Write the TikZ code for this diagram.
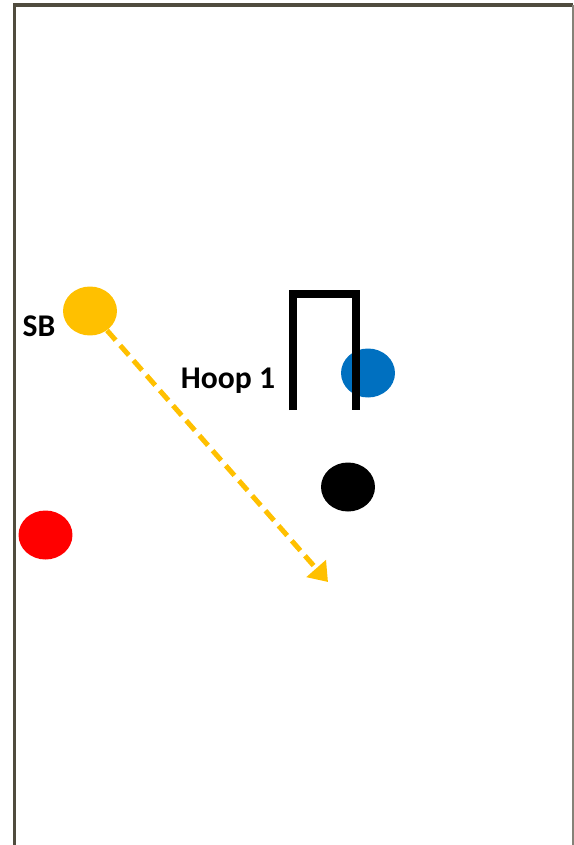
\documentclass[tikz,border=0pt]{standalone}
\usepackage{fontspec}
\setmainfont{Carlito}
\usepackage{tikz}
\usetikzlibrary{shapes.geometric, positioning, arrows.meta}
\definecolor{framecol}{RGB}{80,76,62}
\definecolor{sbyellow}{RGB}{255,192,0}
\definecolor{ballblue}{RGB}{0,112,192}

\begin{document}
\begin{tikzpicture}[x=0.02cm, y=-0.02cm,
        ball/.style={ellipse, minimum width=1.08cm, minimum height=0.98cm, inner sep=0pt},
        label/.style={font=\fontsize{18}{20}\selectfont\bfseries, anchor=base, inner sep=0pt},
        hoop/.style={line width=0.16cm, miter limit=10},
        arrow/.style={sbyellow, line width=0.1cm, dash pattern=on 0.26cm off 0.14cm, -{Triangle[width=0.5cm,length=0.36cm]}}]

        \useasboundingbox (0,0) rectangle (574,845);

        % Marco del campo
        \draw [framecol, line width=0.07cm] (14.5,845) -- (14.5,5) -- (573,5);
        \draw [framecol!70, line width=0.04cm] (573,5) -- (573,845);

        % Bolas
        \node (sb) [ball, fill=sbyellow] at (90,311) {};
        \node (blue) [ball, fill=ballblue] at (368,373) {};
        \node (black) [ball, fill=black] at (348,487) {};
        \node (red) [ball, fill=red] at (45.5,535) {};

        % Aro 1
        \coordinate (hoopl) at (292.5,410);
        \coordinate (hoopr) at (356,410);
        \draw [hoop] (hoopl) -- (292.5,294) -- (356,294) -- (hoopr);

        % Etiquetas
        \node (sblabel) [label] at (39,336) {SB};
        \node (hooplabel) [label] at (228,388) {Hoop 1};

        % Trayectoria de SB
        \coordinate (target) at (328,582);
        \draw [arrow] (sb) -- (target);

\end{tikzpicture}
\end{document}
